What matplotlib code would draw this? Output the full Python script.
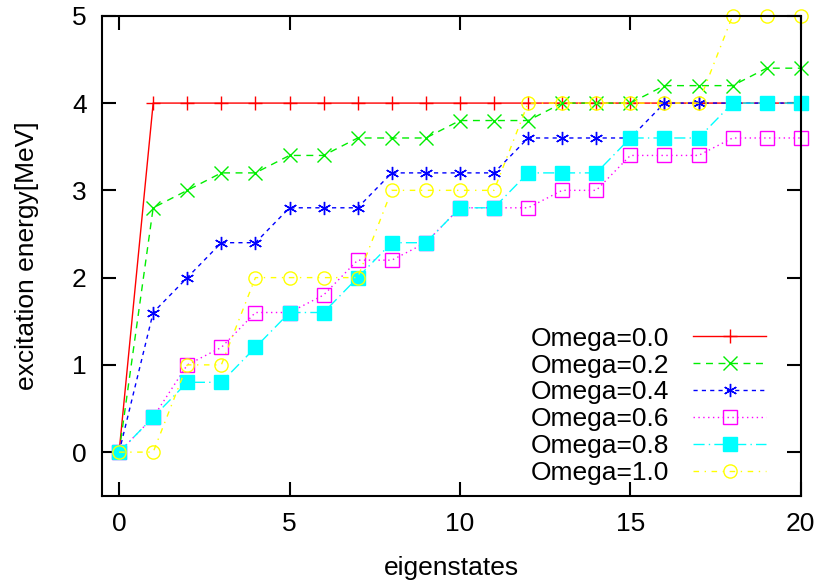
import matplotlib.pyplot as plt
import numpy as np

plt.rcParams['font.family'] = ['Liberation Sans', 'DejaVu Sans']

states = np.arange(21)
e_w00 = [0, 4, 4, 4, 4, 4, 4, 4, 4, 4, 4, 4, 4, 4, 4, 4, 4, 4, 4, 4, 4]
e_w02 = [0, 2.8, 3.0, 3.2, 3.2, 3.4, 3.4, 3.6, 3.6, 3.6, 3.8, 3.8, 3.8, 4.0, 4.0, 4.0, 4.2, 4.2, 4.2, 4.4, 4.4]
e_w04 = [0, 1.6, 2.0, 2.4, 2.4, 2.8, 2.8, 2.8, 3.2, 3.2, 3.2, 3.2, 3.6, 3.6, 3.6, 3.6, 4.0, 4.0, 4.0, 4.0, 4.0]
e_w06 = [0, 0.4, 1.0, 1.2, 1.6, 1.6, 1.8, 2.2, 2.2, 2.4, 2.8, 2.8, 2.8, 3.0, 3.0, 3.4, 3.4, 3.4, 3.6, 3.6, 3.6]
e_w08 = [0, 0.4, 0.8, 0.8, 1.2, 1.6, 1.6, 2.0, 2.4, 2.4, 2.8, 2.8, 3.2, 3.2, 3.2, 3.6, 3.6, 3.6, 4.0, 4.0, 4.0]
e_w10 = [0, 0, 1.0, 1.0, 2.0, 2.0, 2.0, 2.0, 3.0, 3.0, 3.0, 3.0, 4.0, 4.0, 4.0, 4.0, 4.0, 4.0, 5.0, 5.0, 5.0]
labels = ['Omega=0.0', 'Omega=0.2', 'Omega=0.4', 'Omega=0.6', 'Omega=0.8', 'Omega=1.0']

series = [e_w00, e_w02, e_w04, e_w06, e_w08, e_w10]
colors = ['#ff0000', '#00ee00', '#0000ff', '#ff00ff', '#00ffff', '#ffff00']
styles = ['-', (0, (5, 4)), (0, (3, 3)), (0, (1, 2.5)), (0, (8, 3, 1, 3)), (0, (4, 4, 1, 4))]
markers = ['+', 'x', (6, 2, 0), 's', 's', 'o']
mfcs = ['none', 'none', 'none', 'none', '#00ffff', 'none']

fig = plt.figure(figsize=(8.23, 5.86), dpi=100)
ax = fig.add_axes([0.124, 0.154, 0.849, 0.819])

for y, c, ls, m, fc, lab in zip(series, colors, styles, markers, mfcs, labels):
    ax.plot(states, y, color=c, linestyle=ls, linewidth=1, marker=m,
            markersize=9.5, markerfacecolor=fc, markeredgecolor=c,
            markeredgewidth=1, label=lab, clip_on=False)

ax.set_xlim(-0.5, 20)
ax.set_ylim(-0.5, 5)
ax.set_xticks([0, 5, 10, 15, 20])
ax.set_yticks([0, 1, 2, 3, 4, 5])
ax.tick_params(direction='in', length=10, width=1.5, top=True, right=True,
               labelsize=19)
ax.tick_params(axis='x', pad=12)
ax.tick_params(axis='y', pad=11)
for s in ax.spines.values():
    s.set_linewidth(1.5)
ax.set_xlabel('eigenstates', fontsize=19, labelpad=14)
ax.set_ylabel('excitation energy[MeV]', fontsize=19, labelpad=24)

ax.legend(loc='lower right', frameon=False, fontsize=19, markerfirst=False,
          handlelength=2.8, labelspacing=0.11, borderaxespad=0,
          handletextpad=0.9, bbox_to_anchor=(0.966, 0.0))

fig.savefig('out.png', dpi=100)
